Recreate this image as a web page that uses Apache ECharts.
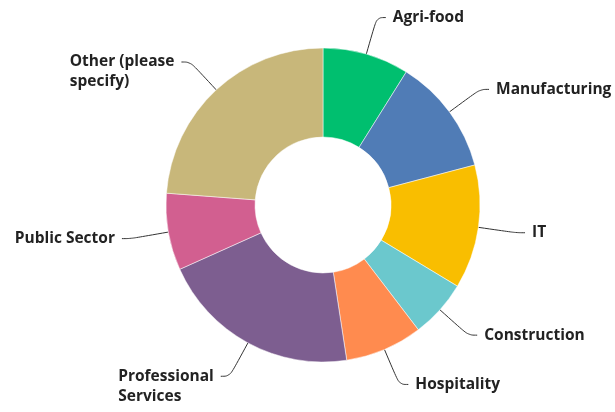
<!DOCTYPE html>
<html>
<head>
<meta charset="utf-8">
<script src="https://cdn.jsdelivr.net/npm/echarts@6/dist/echarts.min.js"></script>
<style>
html,body{margin:0;padding:0;background:#fff;}
#chart{width:615px;height:412px;}
</style>
</head>
<body>
<div id="chart"></div>
<script>
var categories = ["Agri-food", "Manufacturing", "IT", "Construction", "Hospitality", "Professional Services", "Public Sector", "Other (please specify)"];
var labelTexts = ["Agri-food", "Manufacturing", "IT", "Construction", "Hospitality", "Professional\nServices", "Public Sector", "Other (please\nspecify)"];
var values = [8.9, 12.0, 12.75, 5.97, 7.97, 20.7, 7.92, 23.8];
var colors = ["#00BF6F", "#507CB6", "#F9BE00", "#6BC8CD", "#FF8B4F", "#7D5E90", "#D25F90", "#C8B77A"];

var FS = 15.5;
var data = categories.map(function (c, i) {
  var item = { name: c, value: values[i], itemStyle: { color: colors[i] } };
  var txt = labelTexts[i];
  if (txt.indexOf("\n") >= 0) {
    item.label = {
      formatter: txt.split("\n").map(function (s) { return "{l|" + s + "}"; }).join("\n"),
      padding: [20, 0, 0, 0]
    };
  } else {
    item.label = { formatter: txt };
  }
  return item;
});

var chart = echarts.init(document.getElementById("chart"), null, { renderer: "canvas" });
chart.setOption({
  animation: false,
  series: [{
    type: "pie",
    left: 0,
    top: 0,
    width: 800,
    height: 412,
    center: [323, 205],
    radius: [68, 157],
    startAngle: 90,
    clockwise: true,
    avoidLabelOverlap: true,
    data: data,
    itemStyle: { borderColor: "#ffffff", borderWidth: 0.5 },
    label: {
      show: true,
      position: "outside",
      color: "#222222",
      fontFamily: "Open Sans",
      fontWeight: 700,
      fontSize: FS,
      lineHeight: 20,
      distanceToLabelLine: 7,
      bleedMargin: 0,
      overflow: "none",
      rich: {
        l: { align: "left", color: "#222222", fontFamily: "Open Sans", fontWeight: 700, fontSize: FS, lineHeight: 20 }
      }
    },
    labelLine: {
      show: true,
      length: 38,
      length2: 9,
      smooth: 0.4,
      lineStyle: { color: "#333333", width: 1 }
    },
    emphasis: { disabled: true }
  }]
});
</script>
</body>
</html>
